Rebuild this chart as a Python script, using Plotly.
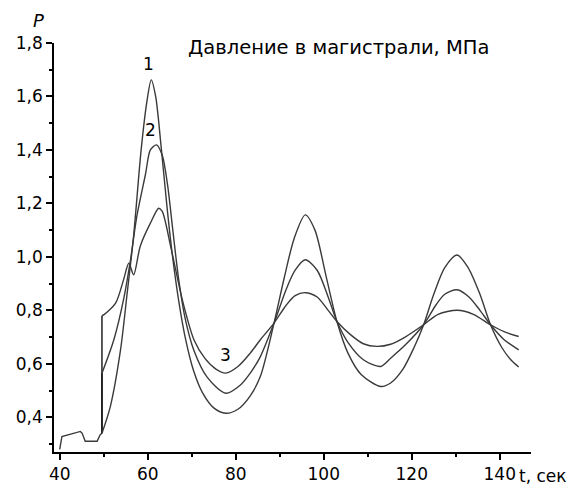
import plotly.graph_objects as go

# Common initial segment (before the valve switching)
t_start = [40.0, 40.5, 44.7, 45.1, 45.8, 48.5, 49.2, 49.6]
p_start = [0.28, 0.328, 0.347, 0.34, 0.31, 0.31, 0.335, 0.34]

# Curve 1
t1 = [49.6, 51.5, 53.8, 55.3, 56.8, 58.5, 59.8, 60.8, 61.8, 63.0, 64.3, 65.5, 67.0, 68.5,
      70.5, 72.5, 75.0, 77.7, 80.5, 83.3, 85.6, 88.7, 91.0, 93.3, 95.8, 98.0, 100.5, 103.0,
      105.5, 108.5, 112.9, 115.2, 118.0, 120.5, 122.7, 125.0, 127.5, 130.3, 132.8, 135.5,
      137.9, 140.5, 142.5, 144.3]
p1 = [0.34, 0.44, 0.65, 0.86, 1.08, 1.40, 1.58, 1.662, 1.60, 1.42, 1.20, 1.02, 0.84, 0.70,
      0.57, 0.49, 0.435, 0.415, 0.43, 0.48, 0.553, 0.752, 0.92, 1.07, 1.157, 1.10, 0.93, 0.758,
      0.64, 0.56, 0.515, 0.528, 0.58, 0.66, 0.746, 0.86, 0.96, 1.007, 0.96, 0.86,
      0.746, 0.66, 0.615, 0.588]

# Curve 2
t2 = [49.6, 52.3, 54.5, 56.1, 57.5, 59.5, 60.6, 62.0, 63.3, 64.5, 65.7, 67.0, 68.5, 70.5,
      73.5, 77.7, 81.0, 83.5, 85.6, 88.7, 91.5, 93.5, 95.8, 98.5, 101.0, 103.0, 105.5, 109.0,
      112.9, 115.2, 118.5, 122.7, 125.5, 127.5, 130.3, 133.0, 135.5, 137.9, 141.0, 144.3]
p2 = [0.565, 0.69, 0.84, 0.99, 1.15, 1.31, 1.40, 1.419, 1.38, 1.27, 1.10, 0.92, 0.77, 0.65,
      0.55, 0.49, 0.52, 0.57, 0.627, 0.752, 0.88, 0.95, 0.989, 0.95, 0.85, 0.758, 0.68, 0.615,
      0.59, 0.621, 0.67, 0.746, 0.82, 0.86, 0.877, 0.85, 0.80, 0.746, 0.69, 0.652]

# Curve 3
t3 = [49.6, 50.0, 52.7, 54.5, 55.7, 56.8, 58.3, 60.6, 62.5, 63.3, 65.2, 66.5, 68.0, 70.5,
      73.0, 75.5, 77.7, 80.5, 83.3, 85.6, 88.7, 91.5, 93.5, 95.8, 98.5, 101.0, 103.0, 106.0,
      109.0, 112.1, 115.2, 118.5, 122.7, 126.0, 130.3, 134.0, 137.9, 141.0, 144.3]
p3 = [0.78, 0.783, 0.827, 0.914, 0.976, 0.933, 1.04, 1.126, 1.182, 1.17, 1.04, 0.94, 0.83, 0.69,
      0.62, 0.58, 0.565, 0.59, 0.64, 0.69, 0.752, 0.82, 0.855, 0.866, 0.85, 0.80, 0.758, 0.71,
      0.675, 0.665, 0.673, 0.70, 0.746, 0.785, 0.80, 0.785, 0.746, 0.72, 0.702]

x_ticks = [40, 60, 80, 100, 120, 140]
y_ticks = [0.4, 0.6, 0.8, 1.0, 1.2, 1.4, 1.6, 1.8]

FONT = "DejaVu Sans"
LINE = "#3a3a3a"

fig = go.Figure()
fig.add_trace(go.Scatter(x=t_start, y=p_start, mode="lines",
                         line=dict(color=LINE, width=1.4)))
# vertical switching jumps
for tt, pp in [(t2, p2), (t3, p3)]:
    fig.add_trace(go.Scatter(x=[t_start[-1], tt[0]], y=[p_start[-1], pp[0]], mode="lines",
                             line=dict(color="#111", width=1.4)))
for tt, pp in [(t1, p1), (t2, p2), (t3, p3)]:
    fig.add_trace(go.Scatter(x=tt, y=pp, mode="lines",
                             line=dict(color=LINE, width=1.4, shape="spline", smoothing=0.8)))

ann = dict(showarrow=False, font=dict(family=FONT, size=17, color="black"))
fig.add_annotation(x=60.27, y=1.722, text="1", **ann)
fig.add_annotation(x=60.6, y=1.475, text="2", **ann)
fig.add_annotation(x=77.66, y=0.632, text="3", **ann)
fig.add_annotation(x=103.3, y=1.782, text="Давление в магистрали, МПа", showarrow=False,
                   font=dict(family=FONT, size=19.5, color="black"))
fig.add_annotation(x=-0.0482, y=1.056, xref="paper", yref="paper", text="<i>P</i>",
                   showarrow=False, yanchor="middle",
                   font=dict(family=FONT, size=18, color="black"))
fig.add_annotation(x=0.9706, y=-0.0587, xref="paper", yref="paper", xanchor="left",
                   yanchor="middle", text="t, сек", showarrow=False,
                   font=dict(family=FONT, size=17, color="black"))

axis_common = dict(showline=True, linecolor="black", linewidth=1.5, ticks="outside",
                   ticklen=6, tickwidth=1.5, tickcolor="black", showgrid=False,
                   zeroline=False, automargin=False,
                   tickfont=dict(family=FONT, size=17, color="black"))
fig.update_xaxes(range=[38.7, 147.1], tickvals=x_ticks,
                 minor=dict(dtick=10, tick0=40, ticks="outside", ticklen=3, tickwidth=1.5,
                            tickcolor="black", showgrid=False),
                 **axis_common)
fig.update_yaxes(range=[0.27, 1.8], tickvals=y_ticks, tickformat=".1f",
                 minor=dict(dtick=0.1, tick0=0.4, ticks="outside", ticklen=3, tickwidth=1.5,
                            tickcolor="black", showgrid=False),
                 **axis_common)
# the page body adds an 8 px offset, so the figure is 8 px smaller and margins shifted
fig.update_layout(width=574, height=477, margin=dict(l=46, r=51, t=35, b=33),
                  plot_bgcolor="white", paper_bgcolor="white", showlegend=False,
                  separators=", ", font=dict(family=FONT))
fig.write_html("out.html")
